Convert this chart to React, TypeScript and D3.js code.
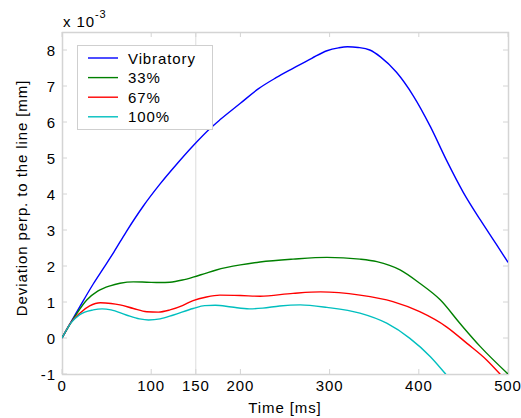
import React, { useEffect, useRef } from "react";
import * as d3 from "d3";

const vibT = [0, 20, 35, 46, 58, 72, 91, 110, 129, 147, 166, 177, 200, 220, 240, 259, 280, 297, 310, 320, 332, 345, 357, 375, 394, 413, 431, 450, 469, 487, 500];
const vibV = [0, 0.87, 1.5, 1.92, 2.38, 2.95, 3.66, 4.28, 4.84, 5.34, 5.82, 6.06, 6.52, 6.92, 7.23, 7.49, 7.77, 7.98, 8.06, 8.09, 8.07, 8.0, 7.81, 7.38, 6.72, 5.87, 4.94, 4.04, 3.28, 2.6, 2.1];

const p33T = [0, 15, 28, 40, 54, 65, 80, 95, 110, 121, 135, 147, 160, 173, 185, 200, 222, 259, 297, 334, 353, 379, 401, 424, 446, 469, 500];
const p33V = [0, 0.62, 1.06, 1.3, 1.45, 1.52, 1.56, 1.55, 1.54, 1.55, 1.61, 1.69, 1.79, 1.89, 1.96, 2.03, 2.11, 2.19, 2.24, 2.19, 2.12, 1.89, 1.52, 1.06, 0.41, -0.24, -1.0];

const p67T = [0, 10, 20, 31, 43, 55, 65, 80, 95, 108, 121, 135, 147, 162, 177, 200, 222, 259, 290, 334, 371, 401, 431, 454, 476, 491, 500];
const p67V = [0, 0.43, 0.69, 0.89, 0.98, 0.96, 0.92, 0.82, 0.73, 0.72, 0.78, 0.9, 1.04, 1.14, 1.19, 1.18, 1.16, 1.24, 1.28, 1.19, 1.01, 0.73, 0.31, -0.15, -0.61, -1.0, -1.25];

const p100T = [0, 10, 20, 35, 45, 55, 72, 87, 97, 110, 125, 147, 160, 172, 190, 210, 225, 244, 267, 297, 334, 364, 390, 413, 430, 440];
const p100V = [0, 0.42, 0.65, 0.78, 0.81, 0.78, 0.64, 0.53, 0.5, 0.53, 0.64, 0.82, 0.9, 0.91, 0.86, 0.81, 0.83, 0.89, 0.92, 0.85, 0.69, 0.41, -0.01, -0.52, -1.0, -1.3];

const xTicks = [0, 100, 150, 200, 300, 400, 500];
const yTicks = [-1, 0, 1, 2, 3, 4, 5, 6, 7, 8];
const gridX = [150];

const seriesNames = ["Vibratory", "33%", "67%", "100%"];
const seriesColors = ["#0000ff", "#008000", "#ff0000", "#00bfbf"];

const App = () => {
  const svgRef = useRef<SVGSVGElement>(null);

  useEffect(() => {
    const svg = d3.select(svgRef.current);
    svg.selectAll("*").remove();

    const left = 62, right = 508, top = 32, bottom = 374;
    const x = d3.scaleLinear().domain([0, 500]).range([left, right]);
    const y = d3.scaleLinear().domain([-1, 8.5]).range([bottom, top]);
    const font = "'Liberation Sans', Arial, sans-serif";
    const axisColor = "#d4d4d4";
    const ls = 0.9;

    svg.append("rect").attr("width", 521).attr("height", 418).attr("fill", "#fff");

    svg.append("defs").append("clipPath").attr("id", "plotclip")
      .append("rect").attr("x", left).attr("y", top)
      .attr("width", right - left).attr("height", bottom - top);

    // grid line at 150
    svg.selectAll(".gridx").data(gridX).enter().append("line")
      .attr("x1", d => x(d)).attr("x2", d => x(d))
      .attr("y1", top).attr("y2", bottom)
      .attr("stroke", "#dcdcdc").attr("stroke-width", 1);

    // box
    svg.append("rect").attr("x", left + 0.5).attr("y", top + 0.5)
      .attr("width", right - left).attr("height", bottom - top)
      .attr("fill", "none").attr("stroke", axisColor).attr("stroke-width", 1.5);

    // ticks
    xTicks.forEach(t => {
      svg.append("line").attr("x1", x(t)).attr("x2", x(t)).attr("y1", bottom).attr("y2", bottom - 5)
        .attr("stroke", axisColor);
      svg.append("line").attr("x1", x(t)).attr("x2", x(t)).attr("y1", top).attr("y2", top + 5)
        .attr("stroke", axisColor);
      svg.append("text").attr("x", x(t)).attr("y", 391)
        .attr("text-anchor", "middle").attr("font-family", font).attr("font-size", 15)
        .attr("letter-spacing", ls)
        .text(t);
    });
    yTicks.forEach(t => {
      svg.append("line").attr("x1", left).attr("x2", left + 5).attr("y1", y(t)).attr("y2", y(t))
        .attr("stroke", axisColor);
      svg.append("line").attr("x1", right).attr("x2", right - 5).attr("y1", y(t)).attr("y2", y(t))
        .attr("stroke", axisColor);
      svg.append("text").attr("x", 56).attr("y", y(t) + 5.5)
        .attr("text-anchor", "end").attr("font-family", font).attr("font-size", 15)
        .attr("letter-spacing", ls)
        .text(t);
    });

    // exponent
    const ex = svg.append("text").attr("x", 63).attr("y", 27)
      .attr("font-family", font).attr("font-size", 15).attr("letter-spacing", ls);
    ex.append("tspan").text("x 10");
    ex.append("tspan").attr("dy", -9).attr("font-size", 11).text("-3");

    // axis labels
    svg.append("text").attr("x", 285).attr("y", 413)
      .attr("text-anchor", "middle").attr("font-family", font).attr("font-size", 15)
      .attr("letter-spacing", ls)
      .text("Time [ms]");
    svg.append("text").attr("transform", `translate(27, 198) rotate(-90)`)
      .attr("text-anchor", "middle").attr("font-family", font).attr("font-size", 15)
      .attr("letter-spacing", ls)
      .text("Deviation perp. to the line [mm]");

    // lines
    const allT = [vibT, p33T, p67T, p100T];
    const allV = [vibV, p33V, p67V, p100V];
    const line = d3.line<[number, number]>()
      .x(d => x(d[0])).y(d => y(d[1]))
      .curve(d3.curveMonotoneX);
    const plot = svg.append("g").attr("clip-path", "url(#plotclip)");
    allT.forEach((ts, i) => {
      const pts = ts.map((t, j) => [t, allV[i][j]] as [number, number]);
      plot.append("path").attr("d", line(pts)!)
        .attr("fill", "none").attr("stroke", seriesColors[i]).attr("stroke-width", 1.4);
    });

    // legend
    const lg = svg.append("g");
    lg.append("rect").attr("x", 77.5).attr("y", 45.5).attr("width", 135).attr("height", 84)
      .attr("fill", "#fff").attr("stroke", "#cfcfcf");
    seriesNames.forEach((n, i) => {
      const ly = 58 + i * 19.6;
      lg.append("line").attr("x1", 88).attr("x2", 118).attr("y1", ly).attr("y2", ly)
        .attr("stroke", seriesColors[i]).attr("stroke-width", 1.4);
      lg.append("text").attr("x", 128).attr("y", ly + 5.5)
        .attr("font-family", font).attr("font-size", 15).attr("letter-spacing", ls).text(n);
    });
  }, []);

  return (
    <svg ref={svgRef} width={521} height={418}
      style={{ position: "absolute", left: 0, top: 0 }} />
  );
};

export default App;
